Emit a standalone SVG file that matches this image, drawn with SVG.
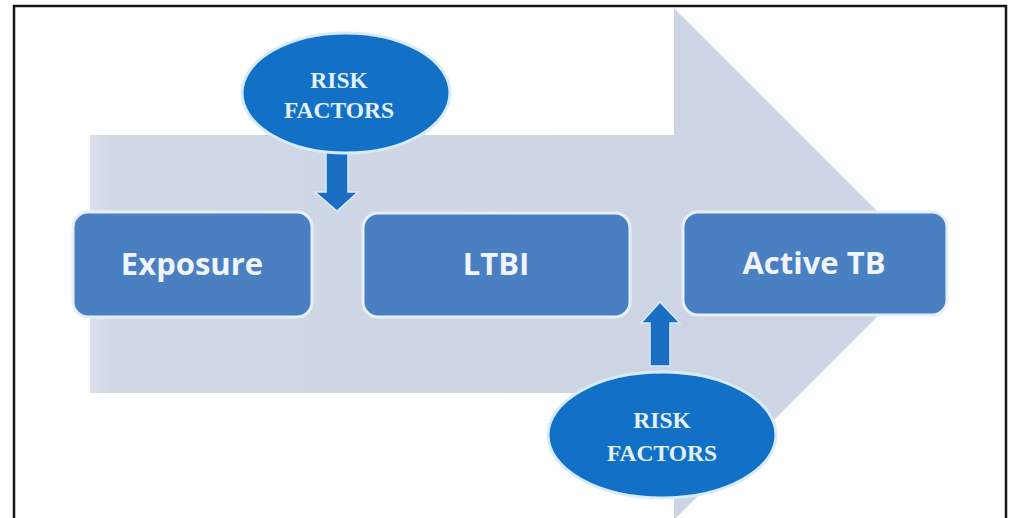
<svg xmlns="http://www.w3.org/2000/svg" width="1012" height="518" viewBox="0 0 1012 518">
  <defs>
    <linearGradient id="shaftGrad" x1="0" y1="0" x2="1" y2="0">
      <stop offset="0" stop-color="#dce1ec"/>
      <stop offset="0.04" stop-color="#d0d7e6"/>
      <stop offset="1" stop-color="#cdd5e4"/>
    </linearGradient>
    <style>
      .box { fill: #4a7fc1; stroke: #e6f0fb; stroke-width: 3; }
      .boxText { font-family: "Open Sans", "Liberation Sans", sans-serif; font-weight: bold; font-size: 31px; fill: #eef5fc; text-anchor: middle; }
      .oval { fill: #1270c6; stroke: #d8ebfa; stroke-width: 3; }
      .ovalText { font-family: "Liberation Serif", serif; font-weight: bold; font-size: 23.5px; fill: #e4f1fb; text-anchor: middle; }
      .blockArrow { fill: #1a6fc2; stroke: #d8ebfa; stroke-width: 1.5; }
    </style>
  </defs>
  <rect x="0" y="0" width="1012" height="518" fill="#ffffff"/>
  <!-- big background arrow -->
  <polygon points="674,8 930,264 674,520" fill="#cdd5e4"/>
  <rect x="90" y="135" width="590" height="258" fill="url(#shaftGrad)"/>
  <!-- frame -->
  <rect x="14" y="6" width="992" height="530" fill="none" stroke="#151515" stroke-width="2.5"/>

  <g id="connectors">
    <polygon class="blockArrow" points="326,150 348,150 348,192 358,192 337,211 315,192 326,192"/>
    <polygon class="blockArrow" points="650,366 670,366 670,323 680,323 660,302 641,323 650,323"/>
  </g>

  <g id="exposure">
    <rect class="box" x="73" y="212" width="239" height="105" rx="15"/>
    <text class="boxText" x="192" y="275">Exposure</text>
  </g>
  <g id="ltbi">
    <rect class="box" x="363" y="213" width="267" height="104" rx="15"/>
    <text class="boxText" x="496" y="275">LTBI</text>
  </g>
  <g id="active-tb">
    <rect class="box" x="683" y="212" width="264" height="103" rx="15"/>
    <text class="boxText" x="814" y="274">Active TB</text>
  </g>
  <g id="risk-factors-top">
    <ellipse class="oval" cx="346" cy="93" rx="104" ry="60"/>
    <text class="ovalText" x="339" y="88">RISK</text>
    <text class="ovalText" x="339" y="118">FACTORS</text>
  </g>
  <g id="risk-factors-bottom">
    <ellipse class="oval" cx="662" cy="435" rx="114" ry="63"/>
    <text class="ovalText" x="662" y="428">RISK</text>
    <text class="ovalText" x="662" y="461">FACTORS</text>
  </g>
</svg>
